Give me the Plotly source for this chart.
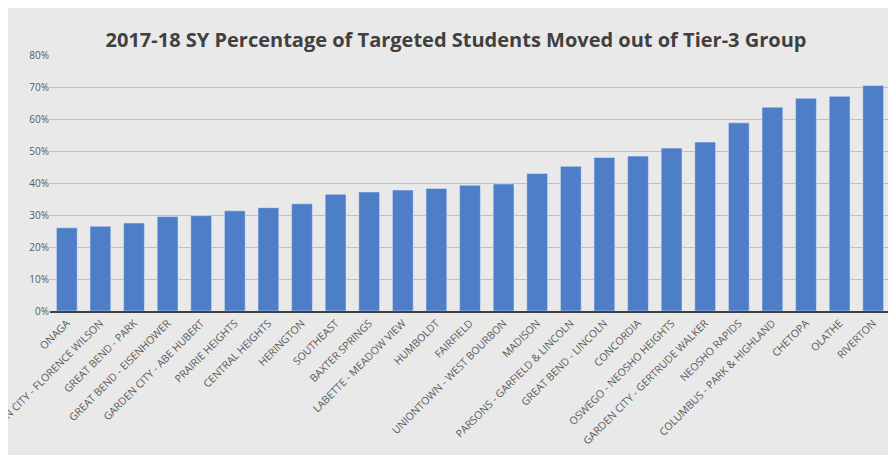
import plotly.graph_objects as go

schools = ["ONAGA", "GARDEN CITY - FLORENCE WILSON", "GREAT BEND - PARK", "GREAT BEND - EISENHOWER",
           "GARDEN CITY - ABE HUBERT", "PRAIRIE HEIGHTS", "CENTRAL HEIGHTS", "HERINGTON", "SOUTHEAST",
           "BAXTER SPRINGS", "LABETTE - MEADOW VIEW", "HUMBOLDT", "FAIRFIELD", "UNIONTOWN - WEST BOURBON",
           "MADISON", "PARSONS - GARFIELD & LINCOLN", "GREAT BEND - LINCOLN", "CONCORDIA",
           "OSWEGO - NEOSHO HEIGHTS", "GARDEN CITY - GERTRUDE WALKER", "NEOSHO RAPIDS",
           "COLUMBUS - PARK & HIGHLAND", "CHETOPA", "OLATHE", "RIVERTON"]
pct_moved = [0.260, 0.265, 0.275, 0.295, 0.298, 0.313, 0.323, 0.335, 0.365, 0.372, 0.378, 0.383,
             0.393, 0.397, 0.430, 0.452, 0.480, 0.484, 0.509, 0.528, 0.588, 0.637, 0.665, 0.671, 0.705]

fig = go.Figure()
fig.add_trace(go.Bar(x=schools, y=pct_moved, marker_color="#4f7ec9", width=0.62))

fig.update_layout(
    title=dict(text="<b>2017-18 SY Percentage of Targeted Students Moved out of Tier-3 Group</b>",
               x=0.5, xanchor="center", y=0.945, font=dict(size=20, color="#404040")),
    width=896, height=455,
    margin=dict(l=42, r=14, t=47, b=152, autoexpand=False),
    paper_bgcolor="#e9e9e9", plot_bgcolor="#e9e9e9",
    font=dict(family="Open Sans", color="#595959"),
    showlegend=False,
)
fig.update_xaxes(tickangle=-45, tickfont=dict(size=10.5), showline=True, linecolor="#404040",
                 linewidth=2, automargin=False, ticks="")
fig.update_yaxes(range=[0, 0.8], dtick=0.1, tickformat=".0%", gridcolor="#bfbfbf",
                 tickfont=dict(size=10), zeroline=False, automargin=False)

fig.write_html("out.html")
